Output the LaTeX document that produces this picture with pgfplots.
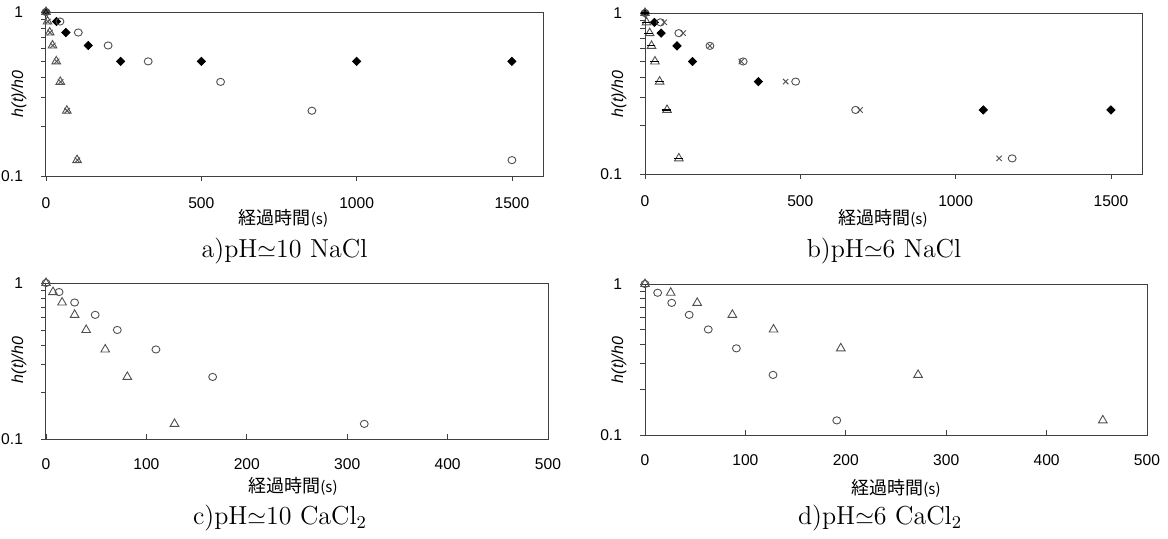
\documentclass[border=0pt]{standalone}
\usepackage{fontspec}
\usepackage{pgfplots}
\pgfplotsset{compat=1.18}
\newfontfamily\arial{Liberation Sans}
\newfontfamily\cjk{Noto Sans CJK JP}
\definecolor{axgray}{HTML}{404040}
\definecolor{mkgray}{HTML}{505050}

\pgfplotsset{
  /pgfplots/mypanel/.style={
    scale only axis, anchor=south west, clip=false,
    ymin=0.1, ymax=1, xmin=0,
    axis line style={axgray, line width=0.5pt},
    every tick/.style={axgray, line width=0.4pt},
    ytick={0.1,1}, yticklabels={0.1,1},
    minor ytick={0.2,0.3,0.4,0.5,0.6,0.7,0.8,0.9},
    major tick length=2.5pt, minor tick length=2.5pt,
    tick pos=left, ytick align=outside,
    tick label style={font=\arial\fontsize{7.8}{9}\selectfont},
    yticklabel style={xshift=-5.5pt},
  },
}
\tikzset{
  dia/.style={only marks, mark=square*, mark size=1.45pt, black, mark options={fill=black, rotate=45}},
  cir/.style={only marks, mark=o, mark size=1.8pt, mkgray, mark options={line width=0.45pt, xscale=1.1}},
  tri/.style={only marks, mark=triangle, mark size=2.5pt, mkgray, mark options={line width=0.45pt}},
  crs/.style={only marks, mark=x, mark size=1.9pt, mkgray, mark options={line width=0.45pt}},
  dsh/.style={only marks, mark=-, mark size=2.2pt, black, mark options={line width=0.6pt}},
}

\newcommand{\ylab}{\arial\itshape\fontsize{8}{9}\selectfont h(t)/h0}
\newcommand{\xlab}{\cjk\fontsize{9}{10}\selectfont 経過時間{\fontsize{7.5}{9}\selectfont(s)}}
\newcommand{\capfont}{\fontsize{13}{15}\selectfont}

\begin{document}
\begin{tikzpicture}
\useasboundingbox (0,0) rectangle (584pt,269pt);

% a) pH 10 NaCl
\begin{axis}[ymode=log, mypanel, at={(23pt,181pt)}, width=248.5pt, height=82pt,
  xmax=1600, xtick={0,500,1000,1500}, xticklabels={0,500,1000,1500},
  xtick align=outside, xticklabel style={yshift=-5pt}]
\addplot[dia] coordinates {(0,1) (34,0.875) (64,0.75) (136,0.625) (240,0.5) (500,0.5) (1000,0.5) (1500,0.5)};
\addplot[cir] coordinates {(0,1) (45,0.875) (104,0.75) (200,0.625) (329,0.5) (562,0.375) (856,0.25) (1500,0.125)};
\addplot[tri] coordinates {(0,1) (5,0.875) (12,0.75) (21,0.625) (33,0.5) (46,0.375) (67,0.25) (100,0.125)};
\addplot[crs] coordinates {(0,1) (6,0.875) (13,0.75) (22,0.625) (34,0.5) (47,0.375) (68,0.25) (101,0.125)};
\end{axis}

% b) pH 6 NaCl
\begin{axis}[ymode=log, mypanel, at={(322.5pt,182pt)}, width=248.5pt, height=80.5pt,
  xmax=1600, xtick={0,500,1000,1500}, xticklabels={0,500,1000,1500},
  xtick align=outside, xticklabel style={yshift=-5pt}]
\addplot[dia] coordinates {(0,1) (30,0.875) (52,0.75) (103,0.625) (153,0.5) (365,0.375) (1089,0.25) (1500,0.25)};
\addplot[cir] coordinates {(0,1) (50,0.875) (109,0.75) (209,0.625) (316,0.5) (485,0.375) (678,0.25) (1182,0.125)};
\addplot[crs] coordinates {(0,1) (62,0.875) (123,0.75) (209,0.625) (310,0.5) (453,0.375) (692,0.25) (1140,0.125)};
\addplot[tri] coordinates {(0,1) (5,0.875) (15,0.75) (21,0.625) (32,0.5) (47,0.375) (71,0.25) (109,0.125)};
\addplot[dsh] coordinates {(0,1) (3,0.875) (12,0.75) (19,0.625) (30,0.5) (46,0.375) (68,0.25) (107,0.125)};
\end{axis}

% c) pH 10 CaCl2
\begin{axis}[ymode=log, mypanel, at={(23pt,49.5pt)}, width=251pt, height=78pt,
  xmax=500, xtick={0,100,200,300,400,500}, xticklabels={0,100,200,300,400,500},
  xtick align=inside, xticklabel style={yshift=-6.5pt}]
\addplot[tri] coordinates {(0,1) (7,0.875) (16,0.75) (28.5,0.625) (40,0.5) (59,0.375) (81,0.25) (128,0.125)};
\addplot[cir] coordinates {(0,1) (13,0.875) (28.5,0.75) (49,0.625) (71,0.5) (109.5,0.375) (166,0.25) (317,0.125)};
\end{axis}

% d) pH 6 CaCl2
\begin{axis}[ymode=log, mypanel, at={(322.5pt,51.5pt)}, width=251pt, height=75.5pt,
  xmax=500, xtick={0,100,200,300,400,500}, xticklabels={0,100,200,300,400,500},
  xtick align=inside, xticklabel style={yshift=-6.5pt}]
\addplot[cir] coordinates {(0,1) (12.6,0.875) (26.6,0.75) (44,0.625) (63,0.5) (91,0.375) (127.5,0.25) (191,0.125)};
\addplot[tri] coordinates {(0,1) (25.6,0.875) (52,0.75) (87,0.625) (128,0.5) (195,0.375) (272,0.25) (456,0.125)};
\end{axis}

% axis titles
\node[rotate=90] at (9.5pt,222pt) {\ylab};
\node[rotate=90] at (309.5pt,222pt) {\ylab};
\node[rotate=90] at (9.5pt,89pt) {\ylab};
\node[rotate=90] at (309.5pt,89pt) {\ylab};
\node at (141.75pt,159.75pt) {\xlab};
\node at (441.5pt,159.75pt) {\xlab};
\node at (146.5pt,25.75pt) {\xlab};
\node at (448pt,25pt) {\xlab};

% captions
\node[font=\capfont] at (142.25pt,143.5pt) {a)pH$\simeq$10 NaCl};
\node[font=\capfont] at (442pt,143.5pt) {b)pH$\simeq$6 NaCl};
\node[font=\capfont] at (140pt,10pt) {c)pH$\simeq$10 CaCl$_2$};
\node[font=\capfont] at (440pt,10pt) {d)pH$\simeq$6 CaCl$_2$};
\end{tikzpicture}
\end{document}
